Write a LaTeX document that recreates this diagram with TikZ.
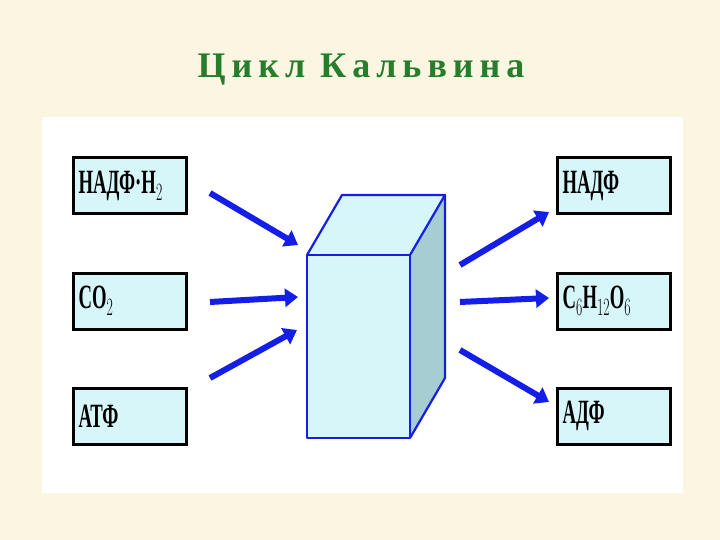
\documentclass[tikz,border=0pt]{standalone}
\usepackage{fontspec}
\setmainfont{Liberation Serif}
\usetikzlibrary{arrows.meta}
\definecolor{paper}{RGB}{250,246,225}
\definecolor{ttl}{RGB}{40,125,45}
\definecolor{boxf}{RGB}{214,246,250}
\definecolor{arr}{RGB}{20,30,230}
\definecolor{side}{RGB}{165,205,210}
\tikzset{
 lbl/.style={draw=black,line width=3pt,fill=boxf,minimum width=113pt,minimum height=56pt,text width=102pt,align=left,inner sep=0pt,font=\fontsize{34}{34}\selectfont\bfseries},
 flow/.style={draw=arr,line width=6pt,-{Triangle[length=13pt,width=18pt]}},
 cube/.style={draw=arr,line width=2.2pt,line join=round}
}
\newcommand{\cn}[1]{\raisebox{-5pt}{\scalebox{0.55}[1]{#1}}}
\begin{document}
\begin{tikzpicture}[x=1pt,y=-1pt]
\useasboundingbox (0,0) rectangle (720,540);
\fill[paper] (0,0) rectangle (720,540);
\fill[white] (42,117) rectangle (683,493);
\node[font=\fontsize{36}{36}\selectfont\bfseries,text=ttl] (title) at (361,70) {Ц\,и\,к\,л\, К\,а\,л\,ь\,в\,и\,н\,а};
\node[lbl] (a1) at (129.5,186) {\cn{НАДФ·Н$_2$}};
\node[lbl] (a2) at (129.5,301) {\cn{СО$_2$}};
\node[lbl] (a3) at (129.5,416) {\cn{АТФ}};
\node[lbl] (b1) at (613.5,186) {\cn{НАДФ}};
\node[lbl] (b2) at (613.5,301) {\cn{С$_6$Н$_{12}$О$_6$}};
\node[lbl] (b3) at (613.5,416) {\cn{АДФ}};
% cube
\fill[side] (410,255) -- (445,195) -- (445,378) -- (410,438) -- cycle;
\fill[boxf] (307,255) -- (342,195) -- (445,195) -- (410,255) -- cycle;
\fill[boxf] (307,255) rectangle (410,438);
\draw[cube] (307,255) rectangle (410,438);
\draw[cube] (307,255) -- (342,195) -- (445,195) -- (410,255);
\draw[cube] (445,195) -- (445,378) -- (410,438);
\coordinate (s1) at (210,193); \coordinate (e1) at (298,245);
\coordinate (s2) at (210,302); \coordinate (e2) at (298,297);
\coordinate (s3) at (210,378); \coordinate (e3) at (297,330);
\coordinate (t1) at (460,265); \coordinate (f1) at (549,212);
\coordinate (t2) at (460,302); \coordinate (f2) at (549,298);
\coordinate (t3) at (460,350); \coordinate (f3) at (549,402);
\draw[flow] (s1) -- (e1); \draw[flow] (s2) -- (e2); \draw[flow] (s3) -- (e3);
\draw[flow] (t1) -- (f1); \draw[flow] (t2) -- (f2); \draw[flow] (t3) -- (f3);
\end{tikzpicture}
\end{document}
